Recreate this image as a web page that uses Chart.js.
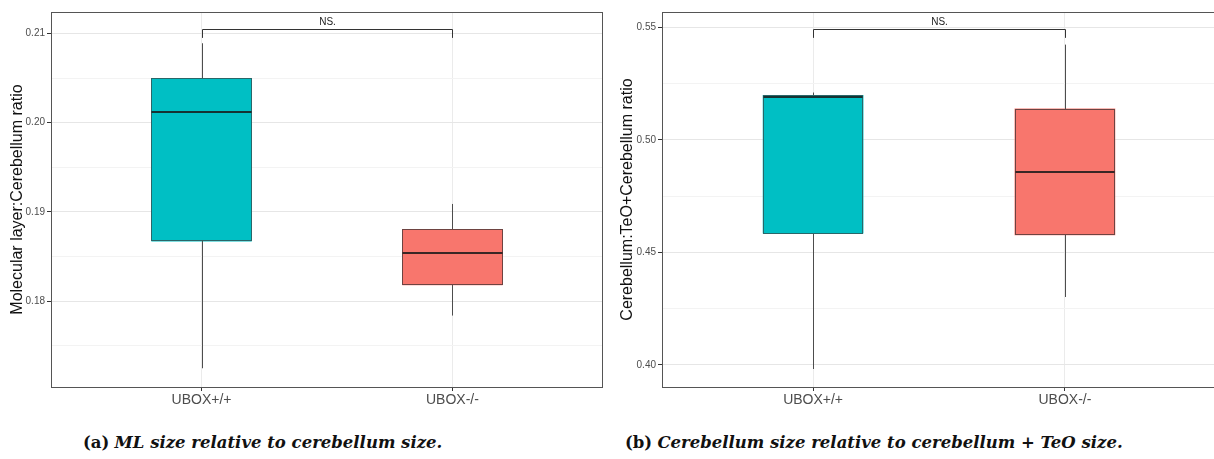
<!DOCTYPE html>
<html>
<head>
<meta charset="utf-8">
<script src="https://cdn.jsdelivr.net/npm/chart.js@4"></script>
<style>
  html, body { margin: 0; padding: 0; background: #fff; overflow: hidden; }
  body { width: 1214px; height: 459px; position: relative; }
  .panel { position: absolute; top: 0; height: 410px; }
  .cap { position: absolute; top: 433px; font-family: "DejaVu Serif", "Liberation Serif", serif;
         font-size: 16.5px; color: #111; white-space: nowrap; }
  .cap b { font-style: normal; }
  .cap i { font-weight: bold; }
</style>
</head>
<body>
<div class="panel" style="left:0;width:610px"><canvas id="mlChart" width="610" height="410"></canvas></div>
<div class="panel" style="left:610px;width:607px"><canvas id="cbChart" width="607" height="410"></canvas></div>
<div class="cap" style="left:83px"><b>(a)</b> <i>ML size relative to cerebellum size.</i></div>
<div class="cap" style="left:625px"><b>(b)</b> <i>Cerebellum size relative to cerebellum + TeO size.</i></div>

<script>
// DATA
var groups = ["UBOX+/+", "UBOX-/-"];
var groupPos = [1, 2];
var boxColors = ["#00BFC4", "#F8766D"];
var boxEdges = ["#2a6769", "#6e4341"];

// molecular layer : cerebellum
var mlMin = [0.1725, 0.1784];
var mlQ1 = [0.1867, 0.1818];
var mlMed = [0.2012, 0.1854];
var mlQ3 = [0.2050, 0.1881];
var mlMax = [0.2089, 0.1909];
var mlBracket = [0.2105, 0.2095]; // bar level, tip level

// cerebellum : TeO + cerebellum
var cbMin = [0.3982, 0.4302];
var cbQ1 = [0.4584, 0.4577];
var cbMed = [0.5193, 0.4856];
var cbQ3 = [0.5200, 0.5140];
var cbMax = [0.5211, 0.5424];
var cbBracket = [0.5494, 0.5454];

var sigLabel = "NS.";

//BOX PLOT EXTRAS (box outline, whiskers, medians, bracket, panel border)
var boxExtras = {
    id: 'boxExtras',
    afterDatasetsDraw: function(chart) {
        var o = chart.options.plugins.boxExtras;
        var c = chart.ctx;
        var xs = chart.scales.x, ys = chart.scales.y;
        var bars = chart.getDatasetMeta(0).data;
        c.save();
        bars.forEach(function(bar, i) {
            var x = Math.round(bar.x) + 0.5;
            var l = Math.round(bar.x - bar.width / 2) + 0.5;
            var r = Math.round(bar.x + bar.width / 2) - 0.5;
            var yq3 = Math.round(ys.getPixelForValue(o.q3[i])) + 0.5;
            var yq1 = Math.round(ys.getPixelForValue(o.q1[i])) - 0.5;
            c.strokeStyle = '#4d4d4d';
            c.lineWidth = 1;
            c.beginPath();
            c.moveTo(x, yq3);
            c.lineTo(x, ys.getPixelForValue(o.max[i]));
            c.moveTo(x, yq1);
            c.lineTo(x, ys.getPixelForValue(o.min[i]));
            c.stroke();
            c.strokeStyle = boxEdges[i];
            c.strokeRect(l, yq3, r - l, yq1 - yq3);
            var ym = Math.round(ys.getPixelForValue(o.med[i]));
            c.strokeStyle = 'rgba(25,25,25,0.85)';
            c.lineWidth = 2;
            c.beginPath();
            c.moveTo(l, ym);
            c.lineTo(r, ym);
            c.stroke();
        });
        // significance bracket
        var x1 = Math.round(xs.getPixelForValue(groupPos[0])) + 0.5;
        var x2 = Math.round(xs.getPixelForValue(groupPos[1])) + 0.5;
        var yb = Math.round(ys.getPixelForValue(o.bracket[0])) + 0.5;
        var yt = ys.getPixelForValue(o.bracket[1]);
        c.strokeStyle = '#333';
        c.lineWidth = 1;
        c.beginPath();
        c.moveTo(x1, yt);
        c.lineTo(x1, yb);
        c.lineTo(x2, yb);
        c.lineTo(x2, yt);
        c.stroke();
        c.fillStyle = '#222';
        c.font = '10px "Liberation Sans", Arial, sans-serif';
        c.textAlign = 'center';
        c.textBaseline = 'middle';
        c.fillText(sigLabel, (x1 + x2) / 2, yb - 7);
        // panel border
        var a = chart.chartArea;
        c.strokeStyle = '#555';
        c.lineWidth = 1;
        c.strokeRect(Math.round(a.left) + 0.5, Math.round(a.top) + 0.5,
            Math.round(a.right - a.left) - 1, Math.round(a.bottom - a.top));
        c.restore();
    }
};

function isMajor(v, major) {
    var r = v / major;
    return Math.abs(r - Math.round(r)) < 1e-6;
}

function makeBoxChart(id, lo, hi, med, mn, mx, bracket, yMin, yMax, step, major, yTitle, yWidth, padRight) {
    var ctx = document.getElementById(id).getContext('2d');
    return new Chart(ctx, {
        type: 'bar',
        data: {
            datasets: [{
                data: groupPos.map(function(p, i) { return { x: p, y: [lo[i], hi[i]] }; }),
                backgroundColor: boxColors,
                borderWidth: 0,
                barPercentage: 0.4,
                categoryPercentage: 1
            }]
        },
        options: {
            animation: false,
            responsive: false,
            layout: { padding: { top: 12, right: padRight, left: 0, bottom: 0 } },
            plugins: {
                legend: { display: false },
                tooltip: { enabled: false },
                boxExtras: { q1: lo, q3: hi, med: med, min: mn, max: mx, bracket: bracket }
            },
            scales: {
                x: {
                    type: 'linear',
                    min: 0.4,
                    max: 2.6,
                    offset: false,
                    afterBuildTicks: function(s) { s.ticks = groupPos.map(function(p) { return { value: p }; }); },
                    afterFit: function(s) { s.height = 23; },
                    border: { display: false },
                    grid: { offset: false, color: '#ebebeb', tickColor: '#333', tickLength: 4 },
                    ticks: {
                        autoSkip: false,
                        maxRotation: 0,
                        padding: 1,
                        color: '#4d4d4d',
                        font: { size: 14, family: '"Liberation Sans", Arial, sans-serif' },
                        callback: function(v) { return groups[groupPos.indexOf(v)]; }
                    }
                },
                y: {
                    min: yMin,
                    max: yMax,
                    afterFit: function(s) { s.width = yWidth; },
                    border: { display: false },
                    grid: {
                        color: function(c) { return isMajor(c.tick.value, major) ? '#e6e6e6' : '#f3f3f3'; },
                        tickColor: function(c) { return isMajor(c.tick.value, major) ? '#333' : 'rgba(0,0,0,0)'; },
                        tickLength: 4
                    },
                    ticks: {
                        stepSize: step,
                        includeBounds: false,
                        autoSkip: false,
                        padding: 2,
                        color: '#4d4d4d',
                        font: { size: 10, family: '"Liberation Sans", Arial, sans-serif' },
                        callback: function(v) { return isMajor(v, major) ? v.toFixed(2) : ''; }
                    },
                    title: {
                        display: true,
                        text: yTitle,
                        color: '#111',
                        padding: { top: 8, bottom: 0 },
                        font: { size: 16, family: '"Liberation Sans", Arial, sans-serif' }
                    }
                }
            }
        },
        plugins: [boxExtras]
    });
}

var mlChart = makeBoxChart('mlChart', mlQ1, mlQ3, mlMed, mlMin, mlMax, mlBracket,
    0.1704, 0.2124, 0.005, 0.01, 'Molecular layer:Cerebellum ratio', 51, 7);
var cbChart = makeBoxChart('cbChart', cbQ1, cbQ3, cbMed, cbMin, cbMax, cbBracket,
    0.3902, 0.5569, 0.025, 0.05, 'Cerebellum:TeO+Cerebellum ratio', 52, 1);
</script>
</body>
</html>
